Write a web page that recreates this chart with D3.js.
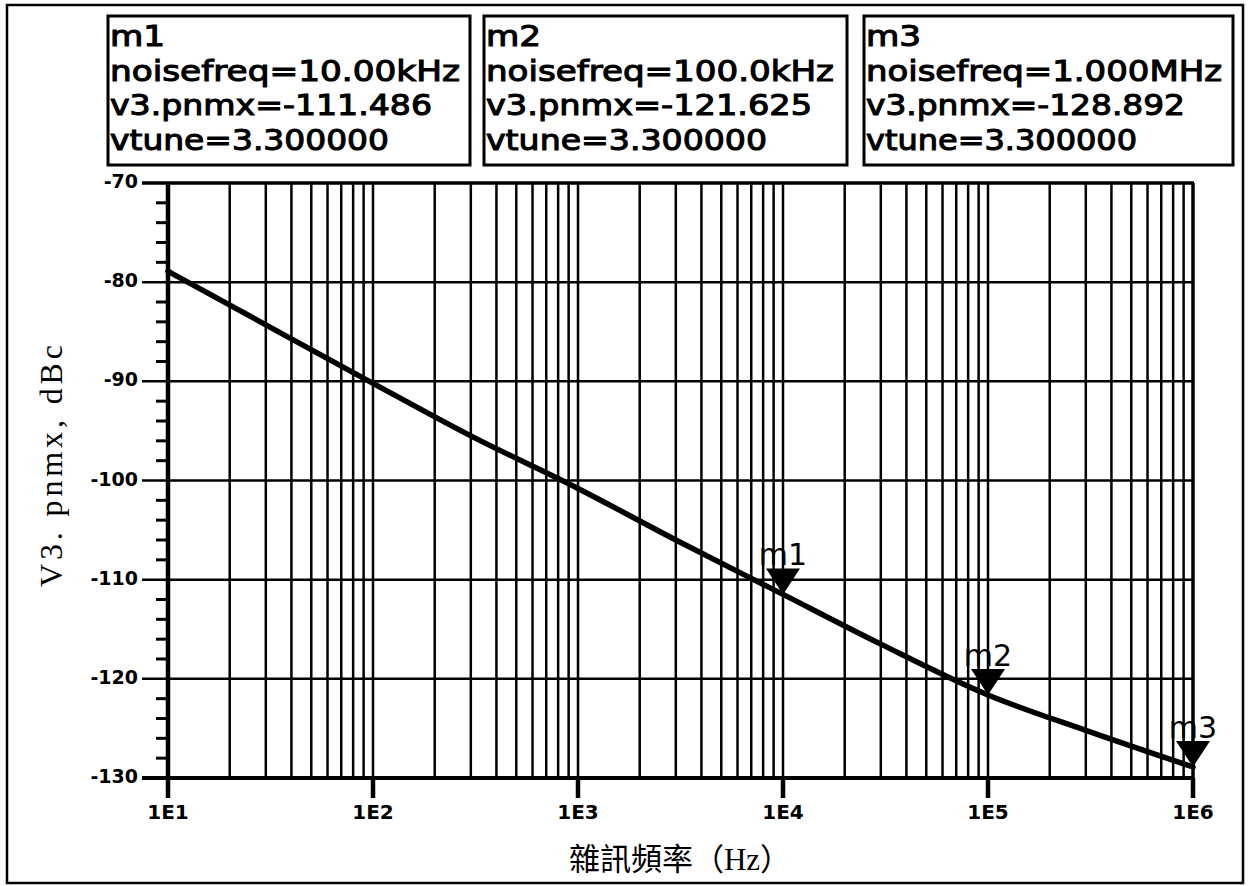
<!DOCTYPE html>
<html>
<head>
<meta charset="utf-8">
<script src="https://cdn.jsdelivr.net/npm/d3@7"></script>
<style>
  body { margin: 0; background: #fff; }
  svg { display: block; }
</style>
</head>
<body>
<svg id="chart" width="1248" height="886"></svg>
<script>
// phase noise vs offset frequency
var noiseFreq = [10, 30, 100, 300, 1000, 3000, 1e4, 3e4, 1e5, 3e5, 1e6];
var pnmx = [-78.9, -84.3, -90.2, -95.5, -100.8, -106.0, -111.486, -116.5, -121.625, -125.2, -128.892];

// markers
var markerNames = ["m1", "m2", "m3"];
var markerFreq = [1e4, 1e5, 1e6];
var markerFreqText = ["10.00kHz", "100.0kHz", "1.000MHz"];
var markerVal = ["-111.486", "-121.625", "-128.892"];
var vtune = "3.300000";

var xTickLabels = ["1E1", "1E2", "1E3", "1E4", "1E5", "1E6"];
var yTicks = [-130, -120, -110, -100, -90, -80, -70];

var svg = d3.select("#chart");

// outer frame
svg.append("rect")
  .attr("x", 7).attr("y", 5)
  .attr("width", 1236).attr("height", 878)
  .attr("fill", "none").attr("stroke", "#000").attr("stroke-width", 2.5);

var x = d3.scaleLog().domain([10, 1e6]).range([168, 1193]);
var y = d3.scaleLinear().domain([-130, -70]).range([778, 183]);

// vertical grid at 1..9 per decade
var vGrid = [];
d3.range(1, 6).forEach(function(e) {
  d3.range(1, 10).forEach(function(m) { vGrid.push(m * Math.pow(10, e)); });
});
vGrid.push(1e6);

svg.append("g")
  .selectAll("line")
  .data(vGrid)
  .join("line")
    .attr("x1", d => x(d)).attr("x2", d => x(d))
    .attr("y1", y(-70)).attr("y2", y(-130))
    .attr("stroke", "#000")
    .attr("stroke-width", d => d == 1e6 ? 3.5 : 2.5);

// horizontal grid + major ticks sticking out to the left
svg.append("g")
  .selectAll("line")
  .data(yTicks)
  .join("line")
    .attr("x1", 142).attr("x2", x(1e6) + 1)
    .attr("y1", d => y(d)).attr("y2", d => y(d))
    .attr("stroke", "#000")
    .attr("stroke-width", d => (d == -70 ? 3.5 : d == -130 ? 4 : 2.5));

// minor y ticks every 2 dB
var minorY = d3.range(-130, -70, 2).filter(d => d % 10 != 0);
svg.append("g")
  .selectAll("line")
  .data(minorY)
  .join("line")
    .attr("x1", 156).attr("x2", x(10))
    .attr("y1", d => y(d)).attr("y2", d => y(d))
    .attr("stroke", "#000").attr("stroke-width", 3);

// left axis
svg.append("line")
  .attr("x1", x(10)).attr("x2", x(10))
  .attr("y1", y(-70)).attr("y2", y(-130))
  .attr("stroke", "#000").attr("stroke-width", 4.5);

// x major ticks below axis
svg.append("g")
  .selectAll("line")
  .data(d3.range(1, 7))
  .join("line")
    .attr("x1", d => x(Math.pow(10, d))).attr("x2", d => x(Math.pow(10, d)))
    .attr("y1", y(-130)).attr("y2", y(-130) + 20)
    .attr("stroke", "#000").attr("stroke-width", 4.5);

// tick labels
svg.append("g")
  .selectAll("text")
  .data(xTickLabels)
  .join("text")
    .attr("x", (d, i) => x(Math.pow(10, i + 1)))
    .attr("y", 819)
    .attr("text-anchor", "middle")
    .attr("font-family", "DejaVu Sans")
    .attr("font-weight", "bold")
    .attr("font-size", 20)
    .text(d => d);

svg.append("g")
  .selectAll("text")
  .data(yTicks)
  .join("text")
    .attr("x", 138)
    .attr("y", d => y(d) + 5)
    .attr("text-anchor", "end")
    .attr("font-family", "DejaVu Sans")
    .attr("font-weight", "bold")
    .attr("font-size", 19)
    .text(d => d);

// axis titles
svg.append("text")
  .attr("transform", "translate(62,466) rotate(-90)")
  .attr("text-anchor", "middle")
  .attr("font-family", "Liberation Serif")
  .attr("font-size", 32)
  .attr("textLength", 242)
  .attr("lengthAdjust", "spacing")
  .text("V3. pnmx,  dBc");

svg.append("text")
  .attr("x", 680).attr("y", 870)
  .attr("text-anchor", "middle")
  .attr("font-family", "'Liberation Serif', 'Noto Sans CJK TC'")
  .attr("font-size", 31)
  .text("雜訊頻率（Hz）");

// the curve
var pts = noiseFreq.map((f, i) => [f, pnmx[i]]);
var line = d3.line()
  .x(d => x(d[0]))
  .y(d => y(d[1]))
  .curve(d3.curveMonotoneX);

svg.append("path")
  .datum(pts)
  .attr("d", line)
  .attr("fill", "none")
  .attr("stroke", "#000")
  .attr("stroke-width", 5.5)
  .attr("stroke-linecap", "round");

// marker triangles and names
var mk = svg.append("g")
  .selectAll("g")
  .data(markerNames)
  .join("g")
    .attr("transform", (d, i) => "translate(" + x(markerFreq[i]) + "," + y(+markerVal[i]) + ")");

mk.append("path")
  .attr("d", "M-17,-26L17,-26L0,0Z")
  .attr("fill", "#000");

mk.append("text")
  .attr("y", -29)
  .attr("text-anchor", "middle")
  .attr("font-family", "DejaVu Sans")
  .attr("font-size", 30)
  .text(d => d);

// readout boxes
var boxX = [108, 484, 864];
var boxW = [362, 363, 369];
// rendered widths of each readout line, per box
var lineW = [[55, 350, 322, 279], [55, 348, 326, 281], [55, 356, 319, 271]];

var box = svg.append("g")
  .selectAll("g")
  .data(markerNames)
  .join("g")
    .attr("transform", (d, i) => "translate(" + boxX[i] + ",16)");

box.append("rect")
  .attr("width", (d, i) => boxW[i]).attr("height", 149)
  .attr("fill", "none").attr("stroke", "#000").attr("stroke-width", 3);

box.each(function(d, i) {
  var lines = [d, "noisefreq=" + markerFreqText[i], "v3.pnmx=" + markerVal[i], "vtune=" + vtune];
  d3.select(this).selectAll("text")
    .data(lines)
    .join("text")
      .attr("x", 2)
      .attr("y", (t, j) => 30 + j * 34.5)
      .attr("font-family", "DejaVu Sans")
      .attr("font-size", 29)
      .attr("textLength", (t, j) => lineW[i][j])
      .attr("lengthAdjust", "spacingAndGlyphs")
      .attr("stroke", "#000").attr("stroke-width", 1.1)
      .text(t => t);
});
</script>
</body>
</html>
